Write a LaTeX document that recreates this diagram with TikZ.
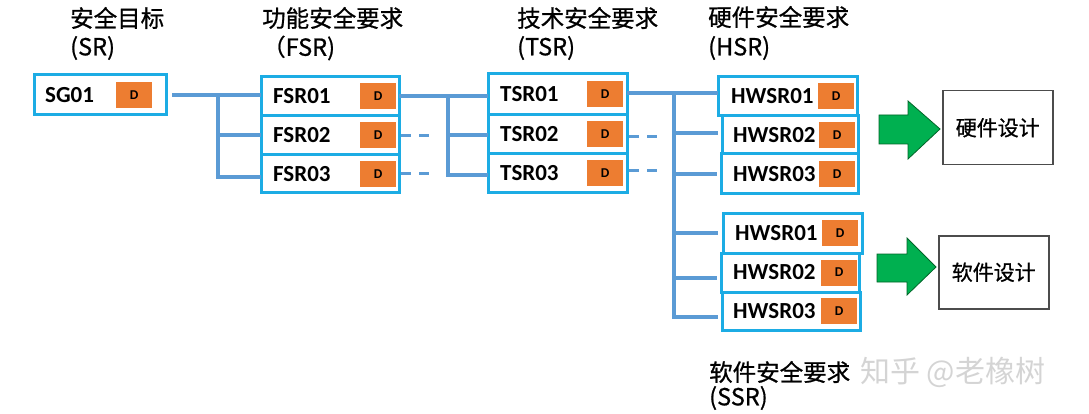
\documentclass[tikz,border=0pt]{standalone}
\usepackage{fontspec}
\setmainfont{Carlito}
\newfontfamily\cjk{Noto Sans CJK SC}
\newfontfamily\cjkb{Noto Sans CJK SC}[FakeBold=0.8]
\definecolor{connblue}{RGB}{91,155,213}
\definecolor{boxblue}{RGB}{28,172,228}
\definecolor{dorange}{RGB}{237,125,49}
\definecolor{arrgreen}{RGB}{0,176,80}
\definecolor{arredge}{RGB}{0,100,40}
\definecolor{wmgray}{RGB}{212,212,212}
\newcommand{\rbox}[8]{%
  \node[reqbox, minimum width={#4-#2}, minimum height={#5-#3}] (#1) at (#2,#3) {};
  \node[reqlabel] (#1-t) at (#7,{(#3+#5)/2}) {#6};
  \node[dbox] (#1-d) at (#8,{(#3+#5)/2}) {D};
}
\begin{document}
\begin{tikzpicture}[x=1pt,y=-1pt,
  reqbox/.style={draw=boxblue, line width=3pt, inner sep=0pt, outer sep=0pt, anchor=north west},
  reqlabel/.style={anchor=west, inner sep=0pt, font=\fontsize{23}{27}\selectfont\bfseries},
  dbox/.style={anchor=west, fill=dorange, minimum width=36pt, minimum height=26pt, inner sep=0pt, font=\fontsize{13.5}{15}\selectfont\bfseries},
  conn/.style={draw=connblue, line width=4pt},
  dashln/.style={draw=connblue, line width=3pt, dash pattern=on 10pt off 8pt},
  title/.style={anchor=west, inner sep=0pt, font=\fontsize{23.5}{27}\selectfont\cjkb},
  design/.style={draw=black!70, line width=1.5pt, anchor=north west, inner sep=0pt},
  designtxt/.style={font=\fontsize{21}{25}\selectfont\cjkb},
  greenarrow/.style={fill=arrgreen, draw=arredge, line width=0.8pt}
]
\useasboundingbox (0,0) rectangle (1089,414);

% titles
\node[title] (t1a) at (70,18) {安全目标};
\node[title] (t1b) at (70,48) {(SR)};
\node[title] (t2a) at (262,18) {功能安全要求};
\node[title] (t2b) at (262,48) {（FSR)};
\node[title] (t3a) at (517,18) {技术安全要求};
\node[title] (t3b) at (517,48) {(TSR)};
\node[title] (t4a) at (708,17) {硬件安全要求};
\node[title] (t4b) at (708,48) {(HSR)};
\node[title] (t5a) at (709,372) {软件安全要求};
\node[title] (t5b) at (709,398) {(SSR)};
\node[anchor=west, inner sep=0pt, text=wmgray, font=\fontsize{30}{34}\selectfont\cjk] (wm) at (860,372) {知乎 @老橡树};

% requirement boxes
\rbox{sg}{34}{75}{166}{115}{SG01}{45}{116}
\rbox{fsr1}{261}{77}{399}{116}{FSR01}{273}{360}
\rbox{fsr2}{261}{116}{399}{155}{FSR02}{273}{360}
\rbox{fsr3}{261}{155}{399}{193}{FSR03}{273}{360}
\rbox{tsr1}{488}{74}{627}{115}{TSR01}{500}{587}
\rbox{tsr2}{488}{115}{627}{154}{TSR02}{500}{587}
\rbox{tsr3}{488}{154}{627}{193}{TSR03}{500}{587}
\rbox{hw1}{718}{77}{857}{116}{HWSR01}{731}{818}
\rbox{hw2}{722}{116}{858}{154}{HWSR02}{733}{819}
\rbox{hw3}{721}{154}{858}{194}{HWSR03}{733}{819}
\rbox{sw1}{723}{213}{862}{253}{HWSR01}{735}{822}
\rbox{sw2}{721}{253}{859}{292}{HWSR02}{733}{821}
\rbox{sw3}{722}{292}{860}{330}{HWSR03}{733}{821}

% connectors SG -> FSR
\coordinate (j1) at (218,95);
\draw[conn] ([xshift=6pt]sg.east) -- (sg.east -| fsr1.west);
\draw[conn] (j1) |- (fsr2.west);
\draw[conn] (j1) |- ([yshift=-3pt]fsr3.west);

% connectors FSR -> TSR
\coordinate (j2) at (448,95);
\draw[conn] (fsr1.east) -- (fsr1.east -| tsr1.west);
\draw[conn] (j2) |- ([yshift=-1pt]tsr2.west);
\draw[conn] (j2) |- ([yshift=-2pt]tsr3.west);
\coordinate (d1) at ([xshift=32pt]fsr2.east);
\coordinate (d2) at ([xshift=32pt]fsr3.east);
\draw[dashln] ([xshift=2pt]fsr2.east) -- (d1);
\draw[dashln] ([xshift=2pt]fsr3.east) -- (d2);
\coordinate (d3) at ([xshift=32pt]tsr2.east);
\coordinate (d4) at ([xshift=32pt]tsr3.east);
\draw[dashln] ([xshift=2pt,yshift=-2pt]tsr2.east) -- ([yshift=-2pt]d3);
\draw[dashln] ([xshift=2pt,yshift=3pt]tsr3.east) -- ([yshift=3pt]d4);

% connectors TSR -> HWSR
\coordinate (j3) at (674,93);
\draw[conn] ([yshift=1pt]tsr1.east) -- ([yshift=1pt]tsr1.east -| hw1.west);
\draw[conn] (j3) |- ([xshift=-4pt,yshift=2pt]hw2.west);
\draw[conn] (j3) |- ([xshift=-4pt]hw3.west);
\draw[conn] (j3) |- ([xshift=-5pt]sw1.west);
\draw[conn] (j3) |- ([xshift=-4pt,yshift=-5.5pt]sw2.west);
\draw[conn] (j3) |- ([xshift=-4pt,yshift=-6pt]sw3.west);

% green arrows
\draw[greenarrow] (879,115) -- (908,115) -- (908,101) -- (940,129) -- (908,159) -- (908,144) -- (879,144) -- cycle;
\draw[greenarrow] (877,254) -- (907,254) -- (907,238) -- (936,267) -- (907,295) -- (907,282) -- (877,282) -- cycle;

% design boxes
\node[design, minimum width=110pt, minimum height=74pt] (hwd) at (942,90) {};
\node[designtxt] (hwdt) at (hwd.center) {硬件设计};
\node[design, minimum width=110pt, minimum height=73pt] (swd) at (938,235) {};
\node[designtxt] (swdt) at (swd.center) {软件设计};
\end{tikzpicture}
\end{document}
